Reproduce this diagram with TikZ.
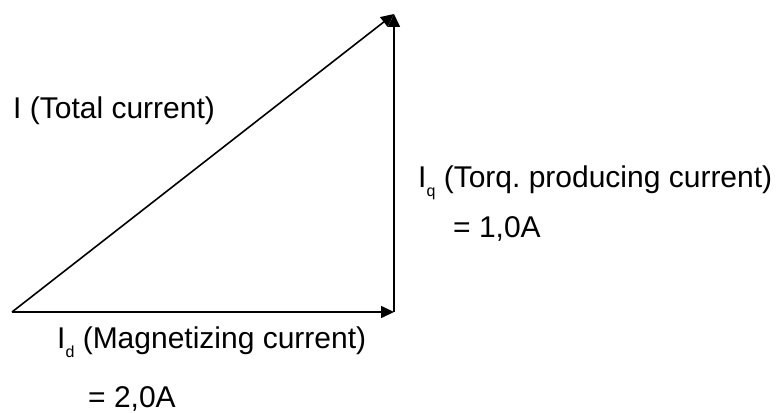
\documentclass[tikz,border=0pt]{standalone}
\usepackage{fontspec}
\setmainfont{Liberation Sans}
\usetikzlibrary{arrows.meta}
\newcommand{\lowsub}[1]{\raisebox{-9pt}{\fontsize{16}{16}\selectfont #1}}
\begin{document}
\frenchspacing
\begin{tikzpicture}[x=1pt,y=-1pt,
  vec/.style={-{Triangle[length=13pt,width=12pt]},line width=1.6pt},
  lbl/.style={anchor=base west,inner sep=0pt,font=\fontsize{30}{36}\selectfont}]
\useasboundingbox (0,0) rectangle (781,412);
\coordinate (O) at (12,312);
\coordinate (D) at (394,312);
\coordinate (Q) at (394,14);
\draw[vec] (O) -- (D);
\draw[vec] (D) -- (Q);
\draw[vec] (O) -- (Q);
\node[lbl] (total) at (13,118) {I (Total current)};
\node[lbl] (torq) at (418,187) {I\lowsub{q} (Torq. producing current)};
\node[lbl] (torqval) at (453,237) {= 1,0A};
\node[lbl] (magn) at (57,348) {I\lowsub{d} (Magnetizing current)};
\node[lbl] (magnval) at (88,407) {= 2,0A};
\end{tikzpicture}
\end{document}
